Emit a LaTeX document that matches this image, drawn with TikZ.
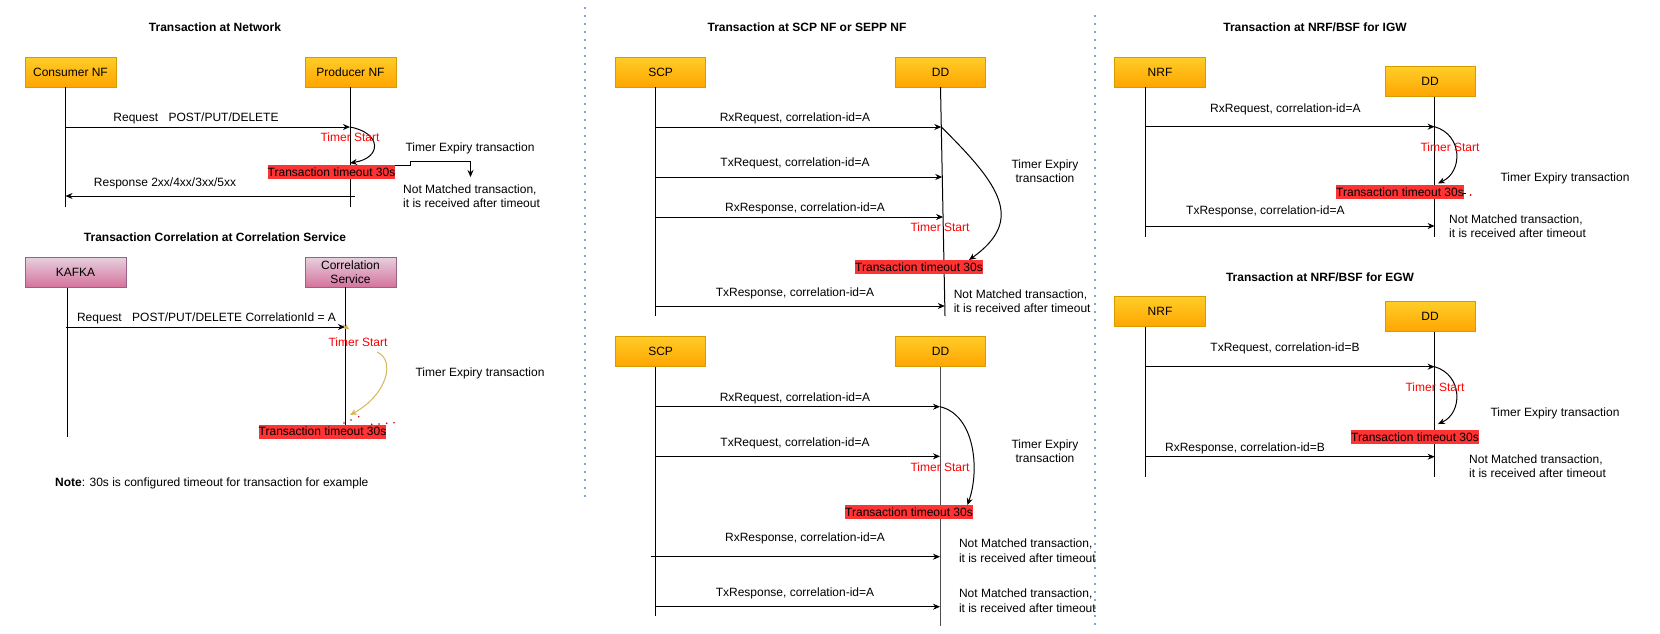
\documentclass[tikz,border=0pt]{standalone}
\usepackage{fontspec}
\setmainfont{Liberation Sans}
\usetikzlibrary{arrows.meta}
\definecolor{orT}{HTML}{FFCD28}
\definecolor{orB}{HTML}{FFA500}
\definecolor{orS}{HTML}{D79B00}
\definecolor{pkT}{HTML}{E6D0DE}
\definecolor{pkB}{HTML}{D5739D}
\definecolor{pkS}{HTML}{996185}
\definecolor{toR}{HTML}{FF3333}
\definecolor{sepB}{HTML}{7EA6E0}
\definecolor{yel}{HTML}{D6B656}
\definecolor{dotR}{HTML}{CC0000}
\begin{document}
\begin{tikzpicture}[x=1pt,y=-1pt,
  fnt/.style={font=\fontsize{12}{14.5}\selectfont},
  lbl/.style={fnt, inner sep=0pt, anchor=base, yshift=-4.3pt},
  ttl/.style={lbl, font=\fontsize{12}{14.5}\selectfont\bfseries},
  tstart/.style={lbl, text=red},
  tout/.style={lbl, fill=toR, inner xsep=0pt, inner ysep=2.6pt},
  ml/.style={fnt, inner sep=0pt, align=left, anchor=north west},
  mlc/.style={fnt, inner sep=0pt, align=center, anchor=north},
  obox/.style={fnt, draw=orS, top color=orT, bottom color=orB, minimum height=30pt, inner sep=0pt, line width=1pt},
  pbox/.style={fnt, draw=pkS, top color=pkT, bottom color=pkB, minimum height=30pt, inner sep=0pt, align=center, line width=1pt},
  lifeline/.style={line width=1pt},
  msg/.style={line width=1pt, -{Stealth[length=7pt,width=6pt]}},
  sepline/.style={sepB, line width=1.6pt, dash pattern=on 1.6pt off 6.4pt},
]
\fill[white] (0,0) rectangle (1660,633);
\useasboundingbox (0,0) rectangle (1660,633);

% separators
\coordinate (s1a) at (585,7); \coordinate (s1b) at (585,498);
\coordinate (s2a) at (1095,15); \coordinate (s2b) at (1095,627);
\draw[sepline] (s1a) -- (s1b);
\draw[sepline] (s2a) -- (s2b);

% ================= Panel 1 =================
\node[ttl] (t1) at (215,27) {Transaction at Network};
\node[obox, minimum width=91pt] (cons) at (70.5,72) {Consumer NF};
\node[obox, minimum width=91pt] (prod) at (350.5,72) {Producer NF};
\coordinate (cT) at (65.5,87); \coordinate (cB) at (65.5,207);
\coordinate (pT) at (350,87); \coordinate (pB) at (350,207);
\draw[lifeline] (cT) -- (cB);
\draw[lifeline] (pT) -- (pB);
\coordinate (r1a) at (65.5,127); \coordinate (r1b) at (350,127);
\draw[msg] (r1a) -- (r1b);
\node[lbl] (l1) at (196,117) {Request\hspace{10.4pt}POST/PUT/DELETE};
\coordinate (c1e) at (350,163);
\draw[msg] (r1b) .. controls (382,133) and (382,158) .. (c1e);
\coordinate (e1a) at (350,165.5); \coordinate (e1b) at (470.5,177);
\draw[msg] (e1a) -- (410,165.5) -- (410,161.5) -- (470.5,161.5) -- (e1b);
\node[tout] (to1) at (331.5,172) {Transaction timeout 30s};
\node[tstart] (ts1) at (350,137) {Timer Start};
\node[lbl] (tx1) at (470,147) {Timer Expiry transaction};
\node[ml] (nm1) at (403,184.5) {Not Matched transaction,\\it is received after timeout};
\coordinate (rs1a) at (355,196); \coordinate (rs1b) at (65.5,196);
\draw[msg] (rs1a) -- (rs1b);
\node[lbl] (l2) at (165,182) {Response 2xx/4xx/3xx/5xx};

% ================= Panel 2 =================
\node[ttl] (t2) at (215,237) {Transaction Correlation at Correlation Service};
\node[pbox, minimum width=101pt] (kafka) at (75.5,272) {KAFKA};
\node[pbox, minimum width=91pt] (cs) at (350.5,272) {Correlation\\Service};
\coordinate (kT) at (67,288); \coordinate (kB) at (67,437);
\coordinate (csT) at (345,287); \coordinate (csB) at (345,425);
\draw[lifeline] (kT) -- (kB);
\draw[lifeline] (csT) -- (csB);
\coordinate (r2a) at (66,327); \coordinate (r2b) at (345,327);
\draw[msg] (r2a) -- (r2b);
\coordinate (y0a) at (343,325); \coordinate (y0b) at (349.5,329.5);
\draw[yel, line width=1pt, -{Stealth[length=6pt,width=5pt]}] (y0a) -- (y0b);
\node[lbl] (l3) at (206.5,317) {Request\hspace{10.4pt}POST/PUT/DELETE CorrelationId = A};
\coordinate (y1a) at (377,352); \coordinate (y1b) at (350,415);
\draw[yel, line width=1pt, -{Stealth[length=7pt,width=6pt]}] (y1a) .. controls (396,360) and (387,395) .. (y1b);
\foreach \p in {(344,423),(351,420),(358.7,416.7),(371.7,424.3),(379,424),(386.7,423.3),(394,422.7)}
  \fill[dotR] \p circle (0.9);
\node[tout] (to2) at (322.5,431.5) {Transaction timeout 30s};
\node[tstart] (ts2) at (358,342) {Timer Start};
\node[lbl] (tx2) at (480,372) {Timer Expiry transaction};
\node[lbl, anchor=base west] (note) at (55,482) {\textbf{Note}: 30s is configured timeout for transaction for example};

% ================= Panel 3 =================
\node[ttl] (t3) at (807,27) {Transaction at SCP NF or SEPP NF};
\node[obox, minimum width=90pt] (scp1) at (660.6,72) {SCP};
\node[obox, minimum width=90pt] (dd1) at (940.5,72) {DD};
\coordinate (sc1T) at (655.8,87); \coordinate (sc1B) at (655.8,316);
\coordinate (dd1T) at (940.5,87); \coordinate (dd1B) at (945,316);
\draw[lifeline] (sc1T) -- (sc1B);
\draw[lifeline] (dd1T) -- (dd1B);
\coordinate (m1a) at (655.8,127); \coordinate (m1b) at (941.3,127);
\coordinate (m2a) at (655.8,177); \coordinate (m2b) at (942.3,177);
\coordinate (m3a) at (655.8,217); \coordinate (m3b) at (943.1,217);
\coordinate (m4a) at (655.8,306); \coordinate (m4b) at (944.8,306);
\draw[msg] (m1a) -- (m1b);
\draw[msg] (m2a) -- (m2b);
\draw[msg] (m3a) -- (m3b);
\draw[msg] (m4a) -- (m4b);
\node[lbl] (l4) at (795,117) {RxRequest, correlation-id=A};
\node[lbl] (l5) at (795,162) {TxRequest, correlation-id=A};
\node[lbl] (l6) at (805,207) {RxResponse, correlation-id=A};
\node[lbl] (l7) at (795,292) {TxResponse, correlation-id=A};
\coordinate (c3e) at (969,260);
\draw[msg] (m1b) .. controls (1000,185) and (1025,220) .. (c3e);
\node[tstart] (ts3) at (940,227) {Timer Start};
\node[tout] (to3) at (919,267) {Transaction timeout 30s};
\node[mlc] (tx3) at (1045,159.5) {Timer Expiry\\transaction};
\node[ml] (nm3) at (953.6,289.5) {Not Matched transaction,\\it is received after timeout};

% ================= Panel 4 =================
\node[obox, minimum width=90pt] (scp2) at (660.6,351) {SCP};
\node[obox, minimum width=90pt] (dd2) at (940.5,351) {DD};
\coordinate (sc2T) at (655.8,367); \coordinate (sc2B) at (655.8,616);
\coordinate (dd2T) at (940,367); \coordinate (dd2B) at (940,626);
\draw[lifeline] (sc2T) -- (sc2B);
\draw[lifeline, black!70] (dd2T) -- (dd2B);
\coordinate (n1a) at (655.8,406.7); \coordinate (n1b) at (940,406.7);
\coordinate (n2a) at (655.8,456.3); \coordinate (n2b) at (940,456.3);
\coordinate (n3a) at (650.6,556.7); \coordinate (n3b) at (940,556.7);
\coordinate (n4a) at (655.8,606.7); \coordinate (n4b) at (940,606.7);
\draw[msg] (n1a) -- (n1b);
\draw[msg] (n2a) -- (n2b);
\draw[msg] (n3a) -- (n3b);
\draw[msg] (n4a) -- (n4b);
\node[lbl] (l8) at (795,396.7) {RxRequest, correlation-id=A};
\node[lbl] (l9) at (795,441.7) {TxRequest, correlation-id=A};
\node[lbl] (l10) at (805,536.7) {RxResponse, correlation-id=A};
\node[lbl] (l11) at (795,591.7) {TxResponse, correlation-id=A};
\coordinate (c4e) at (967.4,505);
\draw[msg] (n1b) .. controls (975,415) and (980,470) .. (c4e);
\node[tstart] (ts4) at (940,466.7) {Timer Start};
\node[tout] (to4) at (909,512) {Transaction timeout 30s};
\node[mlc] (tx4) at (1045,439.5) {Timer Expiry\\transaction};
\node[ml] (nm4) at (958.8,538.8) {Not Matched transaction,\\it is received after timeout};
\node[ml] (nm5) at (958.8,588.8) {Not Matched transaction,\\it is received after timeout};

% ================= Panel 5 =================
\node[ttl] (t5) at (1315,27) {Transaction at NRF/BSF for IGW};
\node[obox, minimum width=91pt] (nrf1) at (1160,72) {NRF};
\node[obox, minimum width=90pt] (dd3) at (1430,81.7) {DD};
\coordinate (nr1T) at (1145.3,87); \coordinate (nr1B) at (1145.3,236.7);
\coordinate (dd3T) at (1434.6,96.7); \coordinate (dd3B) at (1434.6,236.7);
\draw[lifeline] (nr1T) -- (nr1B);
\draw[lifeline] (dd3T) -- (dd3B);
\coordinate (p1a) at (1145.3,126.7); \coordinate (p1b) at (1434.6,126.7);
\coordinate (p2a) at (1145.3,226); \coordinate (p2b) at (1434.6,226);
\draw[msg] (p1a) -- (p1b);
\draw[msg] (p2a) -- (p2b);
\node[lbl] (l12) at (1285.4,107.7) {RxRequest, correlation-id=A};
\node[lbl] (l13) at (1265.4,210) {TxResponse, correlation-id=A};
\coordinate (c5e) at (1438,183.3);
\draw[msg] (p1b) .. controls (1463,135) and (1463,172) .. (c5e);
\node[tstart] (ts5) at (1450,146.7) {Timer Start};
\node[tout] (to5) at (1400,192) {Transaction timeout 30s};
\coordinate (d5a) at (1463.3,193.3); \coordinate (d5b) at (1465.5,193.3);
\draw[line width=0.8pt] (d5a) -- (d5b);
\fill[dotR] (1470.7,195) circle (1);
\node[lbl] (tx5) at (1565,176.7) {Timer Expiry transaction};
\node[ml] (nm6) at (1449,214.5) {Not Matched transaction,\\it is received after timeout};

% ================= Panel 6 =================
\node[ttl] (t6) at (1320,276.7) {Transaction at NRF/BSF for EGW};
\node[obox, minimum width=91pt] (nrf2) at (1160,311.7) {NRF};
\node[obox, minimum width=90pt] (dd4) at (1430,316.7) {DD};
\coordinate (nr2T) at (1145.3,326.7); \coordinate (nr2B) at (1145.3,476.7);
\coordinate (dd4T) at (1434.6,331.7); \coordinate (dd4B) at (1434.6,476.7);
\draw[lifeline] (nr2T) -- (nr2B);
\draw[lifeline] (dd4T) -- (dd4B);
\coordinate (q1a) at (1145.3,366.7); \coordinate (q1b) at (1434.6,366.7);
\coordinate (q2a) at (1145.3,456.7); \coordinate (q2b) at (1434.6,456.7);
\draw[msg] (q1a) -- (q1b);
\draw[msg] (q2a) -- (q2b);
\node[lbl] (l14) at (1285,347.3) {TxRequest, correlation-id=B};
\node[lbl] (l15) at (1245,446.7) {RxResponse, correlation-id=B};
\coordinate (c6e) at (1438,424);
\draw[msg] (q1b) .. controls (1463,375) and (1463,413) .. (c6e);
\node[tstart] (ts6) at (1435,386.7) {Timer Start};
\node[tout] (to6) at (1415,437) {Transaction timeout 30s};
\node[lbl] (tx6) at (1555,411.7) {Timer Expiry transaction};
\node[ml] (nm7) at (1469,454.5) {Not Matched transaction,\\it is received after timeout};
\end{tikzpicture}
\end{document}
